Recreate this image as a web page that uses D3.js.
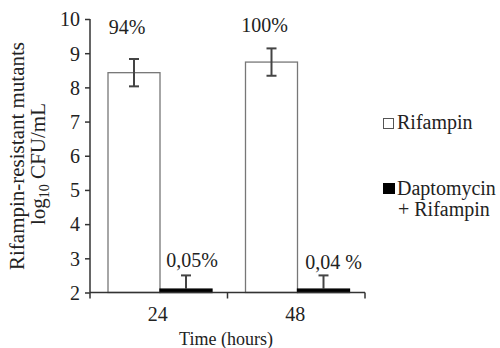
<!DOCTYPE html>
<html>
<head>
<meta charset="utf-8">
<script src="https://cdn.jsdelivr.net/npm/d3@7"></script>
<style>
  html, body { margin: 0; padding: 0; background: #fff; }
</style>
</head>
<body>
<svg id="chart" width="500" height="348"></svg>
<script>
// Time points (hours)
const timepoints = ["24", "48"];
// Treatment groups
const groups = ["Rifampin", "Daptomycin + Rifampin"];
// Mean rifampin-resistant mutants, log10 CFU/mL
const rifampinValues = [8.43, 8.74];
const daptoRifValues = [2.1, 2.1];
// Error (± SD)
const rifampinErrors = [0.4, 0.4];
const daptoRifErrors = [0.4, 0.4];
// Percentage labels above bars
const rifampinLabels = ["94%", "100%"];
const daptoRifLabels = ["0,05%", "0,04 %"];
// Y-axis ticks
const yTicks = [2, 3, 4, 5, 6, 7, 8, 9, 10];

const FONT = "Liberation Serif";
const INK = "#222";
const axisColor = "#333";

const svg = d3.select("#chart");

const x = d3.scaleBand().domain(timepoints).range([90, 365]);
const xs = d3.scaleBand().domain(groups).range([18, 122]);
const y = d3.scaleLinear().domain([2, 10]).range([292.5, 19]);

const rows = timepoints.map((t, i) => [
  { t, g: groups[0], v: rifampinValues[i], e: rifampinErrors[i], label: rifampinLabels[i], solid: false, dx: -7 },
  { t, g: groups[1], v: daptoRifValues[i], e: daptoRifErrors[i], label: daptoRifLabels[i], solid: true, dx: i === 0 ? 6 : 10 }
]).flat();

const cx = d => x(d.t) + xs(d.g) + xs.bandwidth() / 2;

// Bars
svg.append("g").selectAll("rect").data(rows).join("rect")
  .attr("x", d => x(d.t) + xs(d.g))
  .attr("y", d => y(d.v))
  .attr("width", xs.bandwidth())
  .attr("height", d => y(2) - y(d.v))
  .attr("fill", d => d.solid ? "#000" : "#fff")
  .attr("stroke", d => d.solid ? "#000" : "#777")
  .attr("stroke-width", 1.3);

// Error bars (lower arm of the solid bars is hidden under the baseline)
const eb = svg.append("g").attr("stroke", "#444").attr("stroke-width", 2);
rows.forEach(d => {
  const hiY = y(d.v + d.e);
  const loY = d.solid ? y(d.v) : y(d.v - d.e);
  eb.append("line").attr("x1", cx(d)).attr("x2", cx(d)).attr("y1", hiY).attr("y2", loY);
  eb.append("line").attr("x1", cx(d) - 5).attr("x2", cx(d) + 5).attr("y1", hiY).attr("y2", hiY);
  if (!d.solid) {
    eb.append("line").attr("x1", cx(d) - 5).attr("x2", cx(d) + 5).attr("y1", loY).attr("y2", loY);
  }
});

// Percentage labels
svg.append("g").selectAll("text").data(rows).join("text")
  .attr("x", d => cx(d) + d.dx)
  .attr("y", d => d.solid ? y(d.v + d.e) - (d.t === "24" ? 8 : 6) : y(10) + (d.t === "24" ? 15 : 13))
  .attr("text-anchor", "middle")
  .attr("font-family", FONT)
  .attr("font-size", 20)
  .attr("fill", INK)
  .text(d => d.label);

// Y axis
const yAxis = svg.append("g").attr("transform", "translate(90,0)")
  .call(d3.axisLeft(y).tickValues(yTicks).tickSize(5).tickPadding(5).tickFormat(d3.format("d")));
yAxis.select(".domain").attr("stroke", axisColor).attr("stroke-width", 1.5).attr("d", `M0,${y(10)}V${y(2)}`);
yAxis.selectAll(".tick line").attr("stroke", axisColor).attr("stroke-width", 1.5);
yAxis.selectAll(".tick text").attr("font-size", 20).attr("fill", INK)
  .attr("font-family", FONT).attr("dy", "0.34em");

// X axis
const xAxis = svg.append("g").attr("transform", `translate(0,${y(2)})`)
  .call(d3.axisBottom(x).tickSize(0).tickPadding(14));
xAxis.select(".domain").attr("stroke", axisColor).attr("stroke-width", 1.5)
  .attr("d", `M90,0H365`);
xAxis.selectAll(".tick text").attr("font-size", 20).attr("fill", INK)
  .attr("font-family", FONT).attr("dx", -1);
// Category separators
const sepX = [x.range()[0], x("48"), x.range()[1]];
xAxis.selectAll("line.sep").data(sepX).join("line").attr("class", "sep")
  .attr("x1", d => d).attr("x2", d => d).attr("y1", 0).attr("y2", 6)
  .attr("stroke", axisColor).attr("stroke-width", 1.5);

// X axis title
svg.append("text").attr("x", 226).attr("y", 345).attr("text-anchor", "middle")
  .attr("font-family", FONT).attr("font-size", 18).attr("fill", INK).text("Time (hours)");

// Y axis title (two lines)
svg.append("text").attr("transform", "translate(24,156) rotate(-90)")
  .attr("text-anchor", "middle").attr("font-family", FONT).attr("font-size", 21).attr("fill", INK)
  .text("Rifampin-resistant mutants");
const line2 = svg.append("text").attr("transform", "translate(45,164) rotate(-90)")
  .attr("text-anchor", "middle").attr("font-family", FONT).attr("font-size", 21).attr("fill", INK);
line2.append("tspan").text("log");
line2.append("tspan").attr("font-size", 14).attr("dy", 4).text("10");
line2.append("tspan").attr("dy", -4).text(" CFU/mL");

// Legend
const legend = svg.append("g").attr("font-family", FONT).attr("font-size", 20).attr("fill", INK);
legend.append("rect").attr("x", 383.5).attr("y", 118.5).attr("width", 10).attr("height", 10)
  .attr("fill", "#fff").attr("stroke", "#555").attr("stroke-width", 1);
legend.append("text").attr("x", 397).attr("y", 129).text("Rifampin");
legend.append("rect").attr("x", 383).attr("y", 183).attr("width", 12).attr("height", 11).attr("fill", "#000");
legend.append("text").attr("x", 397).attr("y", 195).text("Daptomycin");
legend.append("text").attr("x", 398).attr("y", 216).text("+ Rifampin");
</script>
</body>
</html>
